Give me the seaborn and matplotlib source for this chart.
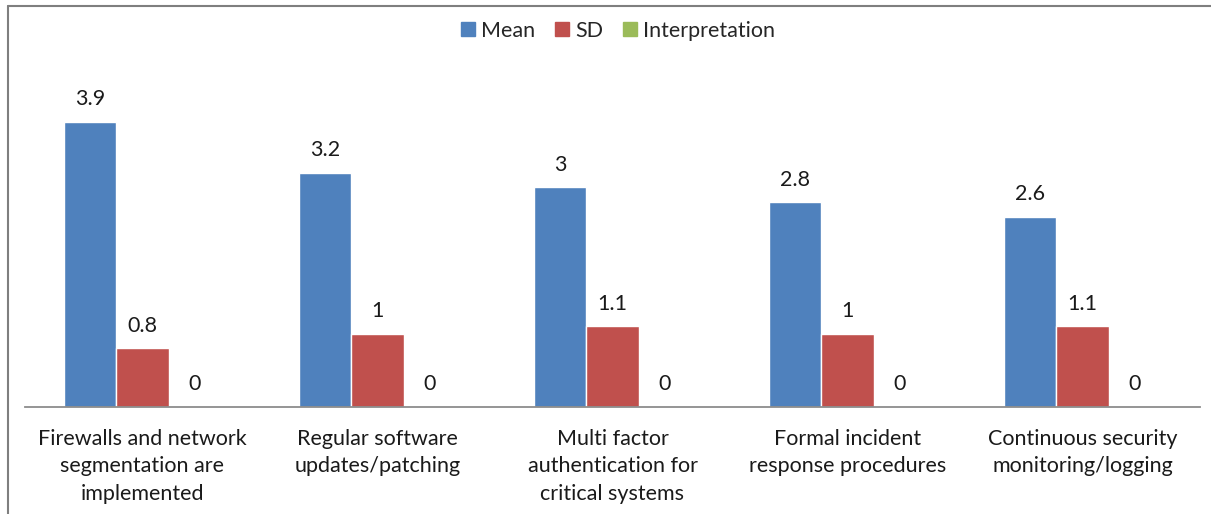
import matplotlib
matplotlib.use("Agg")
import matplotlib.pyplot as plt
import seaborn as sns
import pandas as pd
from matplotlib.lines import Line2D

categories = [
    "Firewalls and network\nsegmentation are\nimplemented",
    "Regular software\nupdates/patching",
    "Multi factor\nauthentication for\ncritical systems",
    "Formal incident\nresponse procedures",
    "Continuous security\nmonitoring/logging",
]
mean_values = [3.9, 3.2, 3.0, 2.8, 2.6]
sd_values = [0.8, 1.0, 1.1, 1.0, 1.1]
interpretation_values = [0, 0, 0, 0, 0]
series_names = ["Mean", "SD", "Interpretation"]
series_colors = ["#4F81BD", "#C0504D", "#9BBB59"]

rows = []
for name, vals in zip(series_names, [mean_values, sd_values, interpretation_values]):
    for cat, v in zip(categories, vals):
        rows.append({"category": cat, "series": name, "value": v})
df = pd.DataFrame(rows)

sns.set_theme(style="white")
plt.rcParams["font.family"] = ["Lato", "DejaVu Sans"]
FS = 15.5

fig = plt.figure(figsize=(12.11, 5.14), dpi=100)
ax = fig.add_axes([25 / 1211, 107 / 514, 1175 / 1211, 366 / 514])

sns.barplot(
    data=df, x="category", y="value", hue="series",
    hue_order=series_names, palette=series_colors,
    order=categories, width=0.667, gap=0, saturation=1,
    ax=ax, legend=False,
)

ax.set_ylim(0, 5)
ax.set_xlim(-0.5, len(categories) - 0.5)
ax.set_xlabel("")
ax.set_ylabel("")
ax.set_yticks([])
for side in ["left", "right", "top"]:
    ax.spines[side].set_visible(False)
ax.spines["bottom"].set_color("#8c8c8c")
ax.spines["bottom"].set_linewidth(1.3)
ax.tick_params(axis="x", length=0, pad=15.5, labelsize=FS, labelcolor="#1a1a1a")
for lbl in ax.get_xticklabels():
    lbl.set_linespacing(1.48)

for container in ax.containers:
    labels = [f"{v:g}" for v in container.datavalues]
    ax.bar_label(container, labels=labels, padding=9, fontsize=FS, color="#1a1a1a")

handles = [Line2D([], [], marker="s", linestyle="", markersize=10,
                  markerfacecolor=c, markeredgecolor=c) for c in series_colors]
fig.legend(handles, series_names, loc="center", bbox_to_anchor=(616 / 1211, 1 - 31 / 514),
           ncol=3, frameon=False, fontsize=FS, handletextpad=0.1,
           columnspacing=0.75, handlelength=1.0)

# chart frame (top and left edges visible)
fig.add_artist(Line2D([8 / 1211, 1.0], [1 - 5.5 / 514, 1 - 5.5 / 514],
                      transform=fig.transFigure, color="#7f7f7f", linewidth=1.5))
fig.add_artist(Line2D([8 / 1211, 8 / 1211], [0.0, 1 - 5.5 / 514],
                      transform=fig.transFigure, color="#7f7f7f", linewidth=1.5))

fig.savefig("out.png", dpi=100, facecolor="white")
